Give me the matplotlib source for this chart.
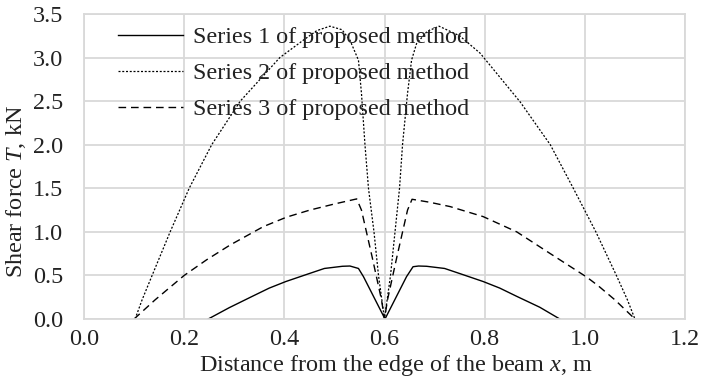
import matplotlib
matplotlib.use("Agg")
import matplotlib.pyplot as plt

# ---- data ----
s1_x = [0.248, 0.29, 0.336, 0.37, 0.403, 0.449, 0.48, 0.516, 0.531, 0.548, 0.558, 0.601,
        0.644, 0.657, 0.668, 0.684, 0.72, 0.751, 0.797, 0.83, 0.864, 0.91, 0.95]
s1_y = [0.0, 0.13, 0.26, 0.355, 0.43, 0.52, 0.58, 0.605, 0.608, 0.58, 0.486, 0.0,
        0.486, 0.60, 0.608, 0.605, 0.58, 0.52, 0.43, 0.355, 0.26, 0.135, 0.0]

s2_x = [0.102, 0.116, 0.136, 0.172, 0.21, 0.255, 0.312, 0.391, 0.438, 0.465, 0.491, 0.515,
        0.531, 0.548, 0.554, 0.561, 0.568, 0.579, 0.588, 0.600,
        0.612, 0.621, 0.630, 0.636, 0.646, 0.654, 0.664, 0.685, 0.709, 0.75, 0.791,
        0.871, 0.931, 0.977, 1.022, 1.063, 1.085, 1.100]
s2_y = [0.0, 0.22, 0.5, 1.0, 1.5, 2.0, 2.5, 3.0, 3.2, 3.31, 3.36, 3.32,
        3.2, 2.97, 2.59, 2.0, 1.5, 1.0, 0.5, 0.0,
        0.5, 1.0, 1.5, 2.0, 2.59, 2.97, 3.16, 3.30, 3.36, 3.25, 3.05,
        2.49, 2.0, 1.5, 1.0, 0.5, 0.22, 0.0]

s3_x = [0.100, 0.142, 0.2, 0.245, 0.292, 0.358, 0.405, 0.451, 0.50, 0.5445, 0.554, 0.575, 0.594, 0.600,
        0.606, 0.625, 0.646, 0.655, 0.69, 0.731, 0.797, 0.864, 0.93, 1.004, 1.027, 1.06, 1.100]
s3_y = [0.0, 0.22, 0.5, 0.68, 0.85, 1.06, 1.17, 1.25, 1.32, 1.378, 1.25, 0.72, 0.22, 0.0,
        0.22, 0.72, 1.25, 1.374, 1.34, 1.29, 1.175, 1.0, 0.754, 0.48, 0.38, 0.22, 0.0]

labels = ["Series 1 of proposed method", "Series 2 of proposed method", "Series 3 of proposed method"]
x_ticks = [0.0, 0.2, 0.4, 0.6, 0.8, 1.0, 1.2]
y_ticks = [0.0, 0.5, 1.0, 1.5, 2.0, 2.5, 3.0, 3.5]

plt.rcParams['font.family'] = ['Liberation Serif', 'DejaVu Serif']
plt.rcParams['mathtext.fontset'] = 'custom'
plt.rcParams['mathtext.rm'] = 'Liberation Serif'
plt.rcParams['mathtext.it'] = 'Liberation Serif:italic'

W, H = 701, 389
fig = plt.figure(figsize=(W / 100, H / 100), dpi=100)
L, R, T, B = 84, 685, 14, 319
ax = fig.add_axes([L / W, 1 - B / H, (R - L) / W, (B - T) / H])

FS = 17.4
grid_c = '#d9d9d9'
txt_c = '#222222'
ax.plot(s1_x, s1_y, color='black', lw=1.0, linestyle='-', label=labels[0])
ax.plot(s2_x, s2_y, color='black', lw=0.9, linestyle=(0, (1.6, 1.4)), label=labels[1])
ax.plot(s3_x, s3_y, color='black', lw=1.0, linestyle=(0, (5.5, 3.5)), label=labels[2])

ax.set_xlim(0, 1.2)
ax.set_ylim(0, 3.5)
ax.set_xticks(x_ticks)
ax.set_yticks(y_ticks)
ax.set_xticklabels([f"{v:.1f}" for v in x_ticks])
ax.set_yticklabels([f"{v:.1f}" for v in y_ticks])
ax.tick_params(length=0, labelsize=FS, colors=txt_c)
ax.tick_params(axis='y', pad=15)
ax.tick_params(axis='x', pad=7)
ax.grid(True, color=grid_c, lw=1.3)
ax.set_axisbelow(True)
for s in ax.spines.values():
    s.set_color(grid_c)
    s.set_linewidth(1.3)

ax.set_xlabel(r"Distance from the edge of the beam $\it{x}$, m", fontsize=FS, color=txt_c)
ax.xaxis.set_label_coords((396 - L) / (R - L), (B - 365) / (B - T))
ax.xaxis.label.set_verticalalignment('center')
ax.set_ylabel(r"Shear force $\it{T}$, kN", fontsize=FS, color=txt_c)
ax.yaxis.set_label_coords((16 - L) / (R - L), (B - 192) / (B - T))
ax.yaxis.label.set_verticalalignment('center')

leg = ax.legend(loc='upper left', bbox_to_anchor=(0.052, 0.968), frameon=False, fontsize=FS,
                handlelength=2.7, handletextpad=0.4, labelspacing=0.58, borderpad=0.1,
                borderaxespad=0)
for t in leg.get_texts():
    t.set_color(txt_c)

fig.savefig("out.png", dpi=100)
